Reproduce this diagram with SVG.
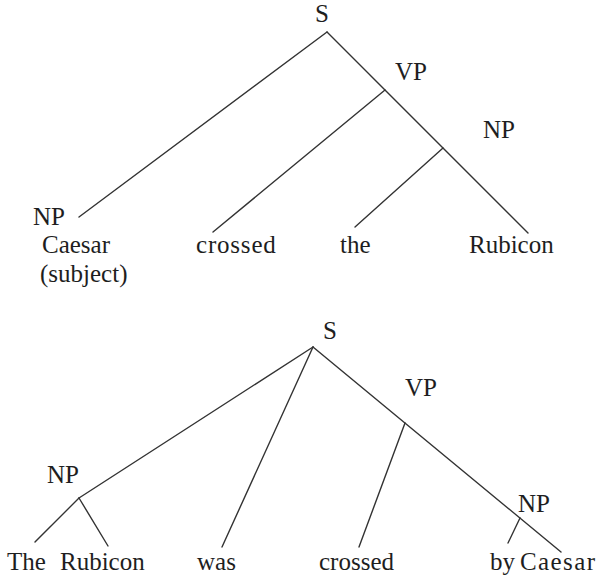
<svg xmlns="http://www.w3.org/2000/svg" width="601" height="577" viewBox="0 0 601 577">
  <style>
    .edge { stroke: #333333; stroke-width: 1.4; fill: none; stroke-linecap: round; }
    .lbl { font-family: "Liberation Serif", serif; font-size: 25px; fill: #1e1e1e; }
  </style>
  <rect width="601" height="577" fill="#ffffff"/>

  <!-- Active sentence tree -->
  <g id="active-edges">
    <line class="edge" x1="327" y1="32" x2="79" y2="217"/>
    <line class="edge" x1="327" y1="32" x2="528" y2="233"/>
    <line class="edge" x1="385" y1="90" x2="213" y2="232"/>
    <line class="edge" x1="443" y1="148" x2="355" y2="227"/>
  </g>
  <g id="a-S"><text class="lbl" x="315" y="22">S</text></g>
  <g id="a-VP"><text class="lbl" x="395" y="80">VP</text></g>
  <g id="a-NP2"><text class="lbl" x="483" y="138">NP</text></g>
  <g id="a-NP1"><text class="lbl" x="33" y="225">NP</text></g>
  <g id="a-caesar">
    <text class="lbl" x="42" y="253">Caesar</text>
    <text class="lbl" x="40" y="282">(subject)</text>
  </g>
  <g id="a-crossed"><text class="lbl" x="196" y="253" letter-spacing="0.8">crossed</text></g>
  <g id="a-the"><text class="lbl" x="340" y="253">the</text></g>
  <g id="a-rubicon"><text class="lbl" x="469" y="253">Rubicon</text></g>

  <!-- Passive sentence tree -->
  <g id="passive-edges">
    <line class="edge" x1="313" y1="347" x2="79" y2="498"/>
    <line class="edge" x1="79" y1="498" x2="35" y2="542"/>
    <line class="edge" x1="79" y1="498" x2="108" y2="546"/>
    <line class="edge" x1="313" y1="347" x2="222" y2="547"/>
    <line class="edge" x1="313" y1="347" x2="561" y2="552"/>
    <line class="edge" x1="405" y1="423" x2="359" y2="547"/>
    <line class="edge" x1="520" y1="518" x2="508" y2="543"/>
  </g>
  <g id="p-S"><text class="lbl" x="323" y="339">S</text></g>
  <g id="p-VP"><text class="lbl" x="405" y="396">VP</text></g>
  <g id="p-NP1"><text class="lbl" x="47" y="483">NP</text></g>
  <g id="p-NP2"><text class="lbl" x="518" y="512">NP</text></g>
  <g id="p-the"><text class="lbl" x="7" y="570">The</text></g>
  <g id="p-rubicon"><text class="lbl" x="60" y="570">Rubicon</text></g>
  <g id="p-was"><text class="lbl" x="197" y="570">was</text></g>
  <g id="p-crossed"><text class="lbl" x="319" y="570">crossed</text></g>
  <g id="p-by"><text class="lbl" x="490" y="570">by</text></g>
  <g id="p-caesar"><text class="lbl" x="520" y="570" letter-spacing="1.4">Caesar</text></g>
</svg>
